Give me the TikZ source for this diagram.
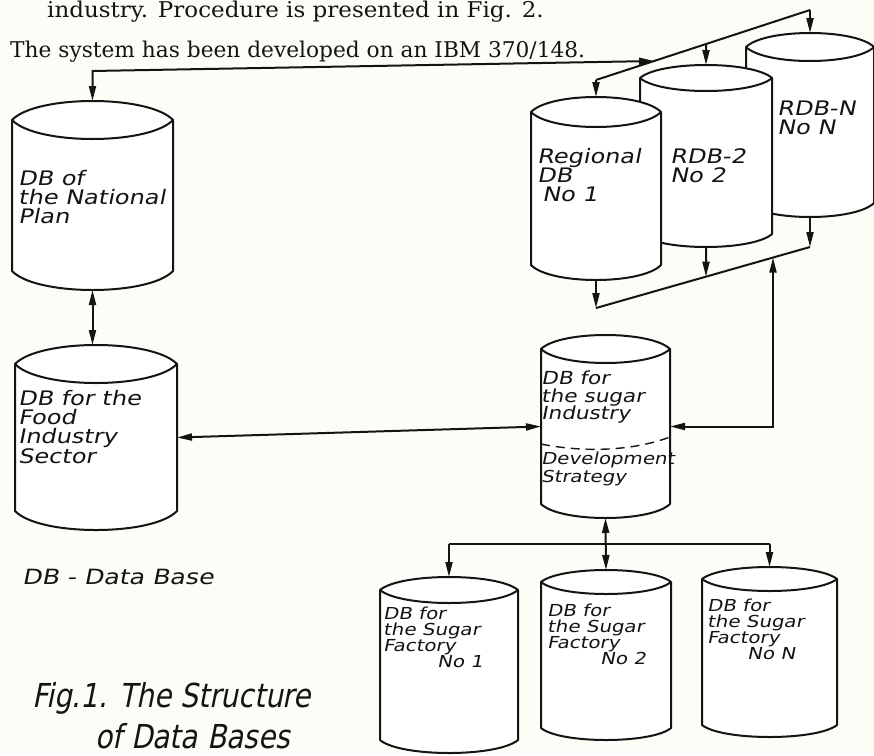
\documentclass[tikz,border=0pt]{standalone}
\usepackage{fontspec}
\usepackage{xcolor}
\usetikzlibrary{arrows.meta}
\setmainfont{DejaVu Serif}
\newfontfamily\widetype{DejaVu Serif}[FakeStretch=1.06]
\newfontfamily\handfont{DejaVu Sans}[FakeStretch=1.2,FakeSlant=0.2]
\newfontfamily\capfont{DejaVu Sans}[FakeStretch=0.85,FakeSlant=0.2]
\definecolor{ink}{HTML}{141414}
\definecolor{paper}{HTML}{FDFDF7}

\tikzset{
  dbbox/.style={inner sep=0pt, outer sep=0pt},
  dbline/.style={draw=ink, line width=2pt, fill=white, line join=round},
  dbtext/.style={anchor=north west, inner sep=0pt, align=left, text=ink,
                 font=\handfont\fontsize{20}{19}\selectfont},
  facttext/.style={dbtext, font=\handfont\fontsize{16.5}{16}\selectfont},
  link/.style={draw=ink, line width=2pt},
  bothtips/.style={{Triangle[length=15pt,width=7pt]}-{Triangle[length=15pt,width=7pt]}},
  endtip/.style={-{Triangle[length=15pt,width=7pt]}},
  typed/.style={anchor=base west, inner sep=0pt, text=ink,
                font=\fontsize{21.7}{26}\selectfont},
}

% data base drum: name, left, right, top, bottom, lid radius
\newcommand{\dbcyl}[6]{%
  \node[dbbox, minimum width={(#3-#2)*1pt}, minimum height={(#5-#4)*1pt}]
    (#1) at ({(#2+#3)/2},{(#4+#5)/2}) {};
  \filldraw[dbline]
    (#2,{#4+#6}) -- (#2,{#5-#6})
    .. controls ({#2+0.15*(#3-#2)},{#5+#6/3}) and ({#3-0.15*(#3-#2)},{#5+#6/3}) .. (#3,{#5-#6})
    -- (#3,{#4+#6})
    .. controls ({#3-0.15*(#3-#2)},{#4-#6/3}) and ({#2+0.15*(#3-#2)},{#4-#6/3}) .. (#2,{#4+#6})
    -- cycle;
  \draw[dbline, fill=none]
    (#2,{#4+#6}) .. controls ({#2+0.15*(#3-#2)},{#4+7*#6/3}) and ({#3-0.15*(#3-#2)},{#4+7*#6/3}) .. (#3,{#4+#6});
}

\begin{document}
\begin{tikzpicture}[x=1pt,y=-1pt]
  \useasboundingbox (0,0) rectangle (874,755);
  \clip (0,0) rectangle (874,755);
  \fill[paper] (0,0) rectangle (874,755);

  % running text of the page
  \node[typed, font=\widetype\fontsize{21.7}{26}\selectfont] (line1) at (47,17)
    {industry. Procedure is presented in Fig. 2.};
  \node[typed] (line2) at (10,57) {The system has been developed on an IBM 370/148.};

  % national level
  \dbcyl{np}{12}{173}{101}{290}{19}
  \dbcyl{food}{15}{177}{345}{530}{19}
  \dbcyl{sug}{541}{670}{335}{518}{14}

  % regional data bases, back to front
  \dbcyl{rdbn}{746}{874}{33}{217}{14}
  \dbcyl{rdb2}{640}{772}{65}{247}{13}
  \dbcyl{rdb1}{531}{661}{97}{280}{15}

  % sugar factories
  \dbcyl{f1}{380}{518}{577}{753}{13}
  \dbcyl{f2}{541}{671}{570}{740}{12}
  \dbcyl{fn}{702}{837}{567}{737}{12}

  % labels
  \node[dbtext] (np-lbl) at (18,170) {DB of\\the National\\Plan};
  \node[dbtext] (food-lbl) at (18,390) {DB for the\\Food\\Industry\\Sector};
  \node[dbtext, font=\handfont\fontsize{18}{17.5}\selectfont] (sug-lbl) at (541,371)
    {DB for\\the sugar\\Industry};
  \node[dbtext, font=\handfont\fontsize{16.5}{17.5}\selectfont] (sug-dev) at (541,452)
    {Development\\Strategy};
  \draw[ink, line width=1.4pt, dash pattern=on 9pt off 6pt]
    (sug.west |- 0,444) .. controls (580,452) and (630,452) .. (sug.east |- 0,437);
  \node[dbtext] (rdb1-lbl) at (537,148) {Regional\\DB\\\hspace*{5pt}No 1};
  \node[dbtext] (rdb2-lbl) at (670,148) {RDB-2\\No 2};
  \node[dbtext] (rdbn-lbl) at (777,101) {RDB-N\\No N};
  \node[facttext] (f1-lbl) at (383,607) {DB for\\the Sugar\\Factory\\\hspace*{54pt}No 1};
  \node[facttext] (f2-lbl) at (547,604) {DB for\\the Sugar\\Factory\\\hspace*{53pt}No 2};
  \node[facttext] (fn-lbl) at (707,599) {DB for\\the Sugar\\Factory\\\hspace*{40pt}No N};

  \node[dbtext, font=\handfont\fontsize{21}{21}\selectfont] (key) at (22,569) {DB - Data Base};
  \node[dbtext, font=\capfont\fontsize{33}{42}\selectfont] (cap1) at (32,682) {Fig.1. The Structure};
  \node[dbtext, font=\capfont\fontsize{33}{42}\selectfont] (cap2) at (95,723) {of Data Bases};

  % regional buses
  \coordinate (ub1) at (596,80);
  \coordinate (ub2) at (810,10);
  \coordinate (lb1) at (596,308);
  \coordinate (lb2) at (810,247);
  \draw[link] (ub1) -- (ub2);
  \draw[link] (lb1) -- (lb2);
  \draw[link,endtip] (ub1) -- (rdb1.north);
  \draw[link,endtip] (intersection of ub1--ub2 and rdb2.north--rdb2.center) -- (rdb2.north);
  \draw[link,endtip] (ub2) -- (rdbn.north);
  \draw[link,endtip] (rdb1.south) -- (lb1);
  \draw[link,endtip] (rdb2.south) -- (intersection of lb1--lb2 and rdb2.south--rdb2.center);
  \draw[link,endtip] (rdbn.south) -- (lb2);

  % national plan, sector and sugar industry
  \draw[link,bothtips] (np.north) -- (np.north |- 0,71)
    -- (intersection of ub1--ub2 and 0,61--874,61);
  \draw[link,bothtips] (np.south) -- (np.south |- food.north);
  \draw[link,bothtips] (food.east) -- (sug.west);
  \coordinate (riser) at (intersection of lb1--lb2 and 773,0--773,500);
  \draw[link,bothtips] (sug.east) -| (riser);

  % factories
  \coordinate (fbus) at (0,544);
  \draw[link,bothtips] (sug.south) -- (f2.north);
  \draw[link] (f1.north |- fbus) -- (fn.north |- fbus);
  \draw[link,endtip] (f1.north |- fbus) -- (f1.north);
  \draw[link,endtip] (fn.north |- fbus) -- (fn.north);
\end{tikzpicture}
\end{document}
